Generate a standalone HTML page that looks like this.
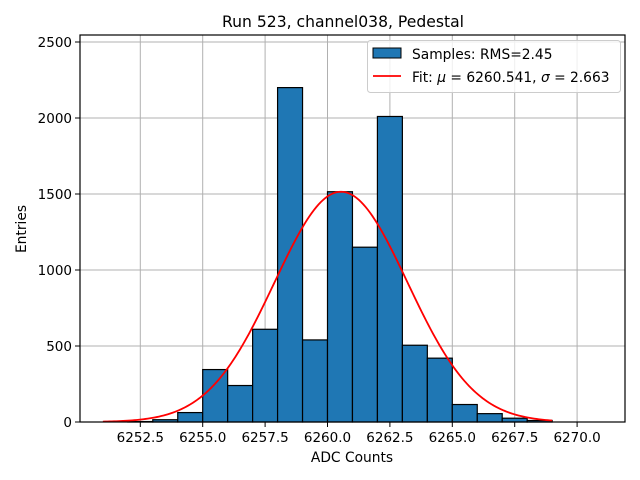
<!DOCTYPE html>
<html><head><meta charset="utf-8"><style>body{margin:0;background:#fff}svg{display:block;font-family:"DejaVu Sans","Liberation Sans",sans-serif}</style></head>
<body>
<svg id="chart" width="640" height="480" viewBox="0 0 640 480"></svg>
<script>
const binEdgesLeft = [6252,6253,6254,6255,6256,6257,6258,6259,6260,6261,6262,6263,6264,6265,6266,6267,6268];
const binCounts = [3,15,62,345,240,610,2200,540,1515,1150,2010,505,420,115,55,25,10];
const xTicks = [6252.5,6255.0,6257.5,6260.0,6262.5,6265.0,6267.5,6270.0];
const yTicks = [0,500,1000,1500,2000,2500];
const fitMu = 6260.541, fitSigma = 2.663, fitAmp = 1515;
const fitRange = [6251, 6269];

const L=80,R=625,T=35,B=422;
const x = v => 202.7 + (v-6255)*24.96;
const y = v => B - v*0.152;
const svg = document.getElementById('chart');
const NS='http://www.w3.org/2000/svg';
function mk(tag, attrs, parent){const e=document.createElementNS(NS,tag);for(const k in attrs)e.setAttribute(k,attrs[k]);(parent||svg).appendChild(e);return e;}

xTicks.forEach(t=>{const g=mk('line',{x1:x(t),x2:x(t),y1:T,y2:B,stroke:'#b0b0b0','stroke-width':1});

});
yTicks.forEach(t=>{const g=mk('line',{x1:L,x2:R,y1:y(t),y2:y(t),stroke:'#b0b0b0','stroke-width':1});

});

binCounts.forEach((c,i)=>{const x0=x(binEdgesLeft[i]),x1=x(binEdgesLeft[i]+1);
const r=mk('rect',{x:x0,y:y(c),width:x1-x0,height:B-y(c),fill:'#1f77b4',stroke:'#000','stroke-width':1.2});

});

let d='';for(let i=0;i<=200;i++){const v=fitRange[0]+(fitRange[1]-fitRange[0])*i/200;const f=fitAmp*Math.exp(-0.5*((v-fitMu)/fitSigma)**2);d+=(i?'L':'M')+x(v).toFixed(2)+','+y(f).toFixed(2);}
const fl=mk('path',{d:d,fill:'none',stroke:'red','stroke-width':1.8});



const fr=mk('rect',{x:L,y:T,width:R-L,height:B-T,fill:'none',stroke:'#000','stroke-width':1.2});



xTicks.forEach(t=>{mk('line',{x1:x(t),x2:x(t),y1:B,y2:B+5,stroke:'#000'});
const tx=mk('text',{x:x(t),y:B+20,'text-anchor':'middle','font-size':13.5});tx.textContent=t.toFixed(1);

});
yTicks.forEach(t=>{mk('line',{x1:L-5,x2:L,y1:y(t),y2:y(t),stroke:'#000'});
const tx=mk('text',{x:L-8,y:y(t)+5,'text-anchor':'end','font-size':13.5});tx.textContent=t;

});
</script>
<div style="position:absolute;left:0;top:0;width:640px;height:480px;pointer-events:none">
<svg width="640" height="480" style="font-family:'DejaVu Sans','Liberation Sans',sans-serif">
<text x="343" y="27" text-anchor="middle" font-size="15.6">Run 523, channel038, Pedestal</text>
<text x="352" y="462" text-anchor="middle" font-size="13.8">ADC Counts</text>
<text x="26" y="229" text-anchor="middle" font-size="13.8" transform="rotate(-90 26 229)">Entries</text>
<g>
<rect x="367.5" y="40.5" width="253" height="52" rx="3" fill="#fff" fill-opacity="0.8" stroke="#ccc"/>
<rect x="373" y="48" width="28" height="10" fill="#1f77b4" stroke="#000"/>
<text x="412" y="59" font-size="13.8">Samples: RMS=2.45</text>
<line x1="373" x2="401" y1="76" y2="76" stroke="red" stroke-width="1.8"/>
<text x="412" y="82" font-size="13.8">Fit: <tspan font-style="italic">μ</tspan> = 6260.541, <tspan font-style="italic">σ</tspan> = 2.663</text>
</g>
</svg></div>
</body></html>
